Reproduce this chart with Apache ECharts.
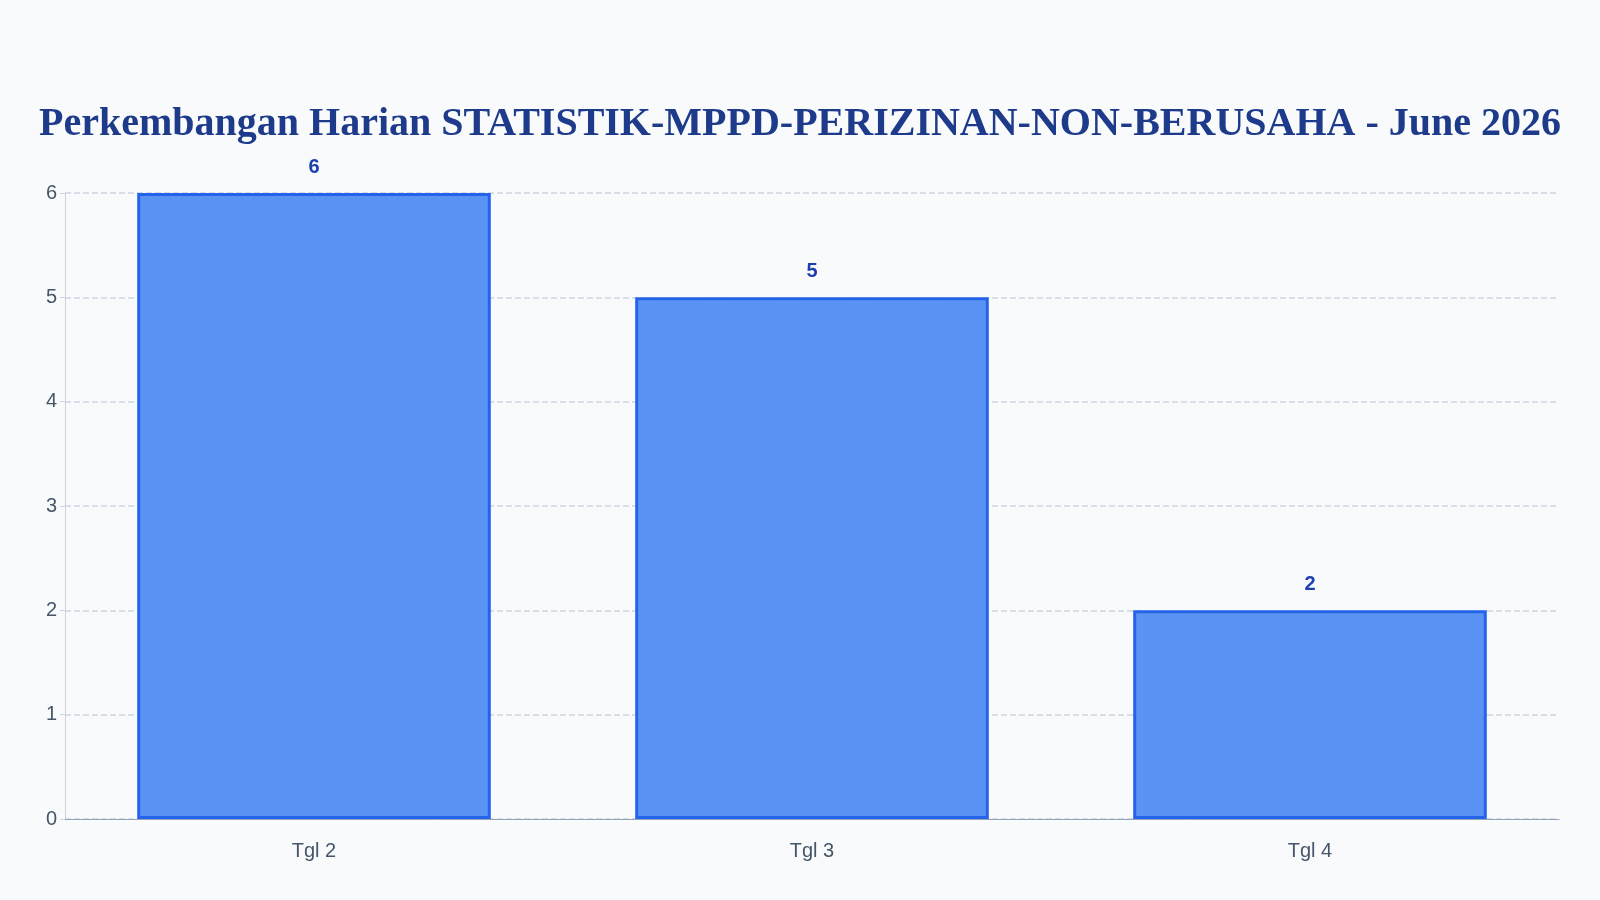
<!DOCTYPE html>
<html><head><meta charset="utf-8">
<script src="https://cdn.jsdelivr.net/npm/echarts@6/dist/echarts.min.js"></script>
<style>html,body{margin:0;padding:0;background:#f8fafc}#c{width:1600px;height:900px}</style>
</head><body><div id="c"></div>
<script>
const categories = ['Tgl 2', 'Tgl 3', 'Tgl 4'];
const values = [6, 5, 2];
const chart = echarts.init(document.getElementById('c'));
chart.setOption({
  backgroundColor: '#f8fafc',
  title: {
    text: 'Perkembangan Harian STATISTIK-MPPD-PERIZINAN-NON-BERUSAHA - June 2026',
    left: 'center', top: 100,
    textStyle: { color: '#1e3a8a', fontSize: 40, fontWeight: 'bold', fontFamily: 'Liberation Sans Narrow' }
  },
  grid: { left: 65, right: 41, top: 193, bottom: 81 },
  xAxis: {
    type: 'category', data: categories,
    axisLine: { lineStyle: { color: '#94a3b8' } },
    axisTick: { show: false },
    axisLabel: { color: '#475569', fontSize: 20, margin: 22 }
  },
  yAxis: {
    type: 'value', min: 0, max: 6, interval: 1,
    axisLine: { show: true, lineStyle: { color: '#cbd5e1' } },
    axisTick: { show: true, lineStyle: { color: '#cbd5e1' } },
    axisLabel: { color: '#475569', fontSize: 20 },
    splitLine: { lineStyle: { type: 'dashed', color: '#cbd5e1', width: 1.5 } }
  },
  series: [{
    type: 'bar', data: values, barWidth: '71%',
    itemStyle: { color: '#5b93f5', borderColor: '#2563eb', borderWidth: 3 },
    label: { show: true, position: 'top', distance: 16, color: '#1e40af', fontWeight: 'bold', fontSize: 20 }
  }]
});
</script></body></html>
